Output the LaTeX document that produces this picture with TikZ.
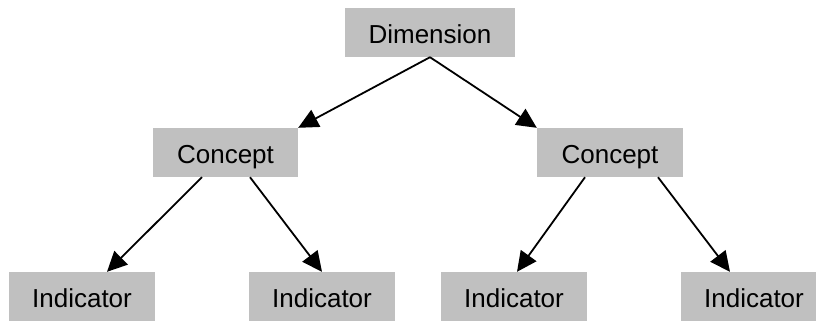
\documentclass[tikz,border=0pt]{standalone}
\usepackage{fontspec}
\setmainfont{Liberation Sans}
\usetikzlibrary{arrows.meta,calc}
\definecolor{boxgray}{HTML}{C0C0C0}
\begin{document}
\begin{tikzpicture}[x=1pt,y=-1pt,
  box/.style={fill=boxgray, minimum height=49pt, inner sep=0pt, text height=21pt, text depth=0pt,
    font=\fontsize{26}{30}\selectfont, anchor=center},
  arr/.style={line width=1.8pt, -{Triangle[length=20pt,width=19pt]}}]
\useasboundingbox (0,0) rectangle (816,322);
\clip (0,0) rectangle (816,322);
\node[box, minimum width=170pt] (d) at (430,32.5) {Dimension};
\node[box, minimum width=145pt] (c1) at (225.5,152.5) {Concept};
\node[box, minimum width=146pt] (c2) at (610,152.5) {Concept};
\node[box, minimum width=146pt] (i1) at (82,296.5) {Indicator};
\node[box, minimum width=146pt] (i2) at (322,296.5) {Indicator};
\node[box, minimum width=146pt] (i3) at (514,296.5) {Indicator};
\node[box, minimum width=146pt] (i4) at (754,296.5) {Indicator};
\draw[arr] (d.south) -- (c1.north east);
\draw[arr] (d.south) -- (c2.north west);
\draw[arr] ([xshift=-23.5pt]c1.south) -- ([xshift=25pt]i1.north);
\draw[arr] ([xshift=24.5pt]c1.south) -- (i2.north);
\draw[arr] ([xshift=-25pt]c2.south) -- ([xshift=3pt]i3.north);
\draw[arr] ([xshift=48pt]c2.south) -- ([xshift=-24pt]i4.north);
\end{tikzpicture}
\end{document}
